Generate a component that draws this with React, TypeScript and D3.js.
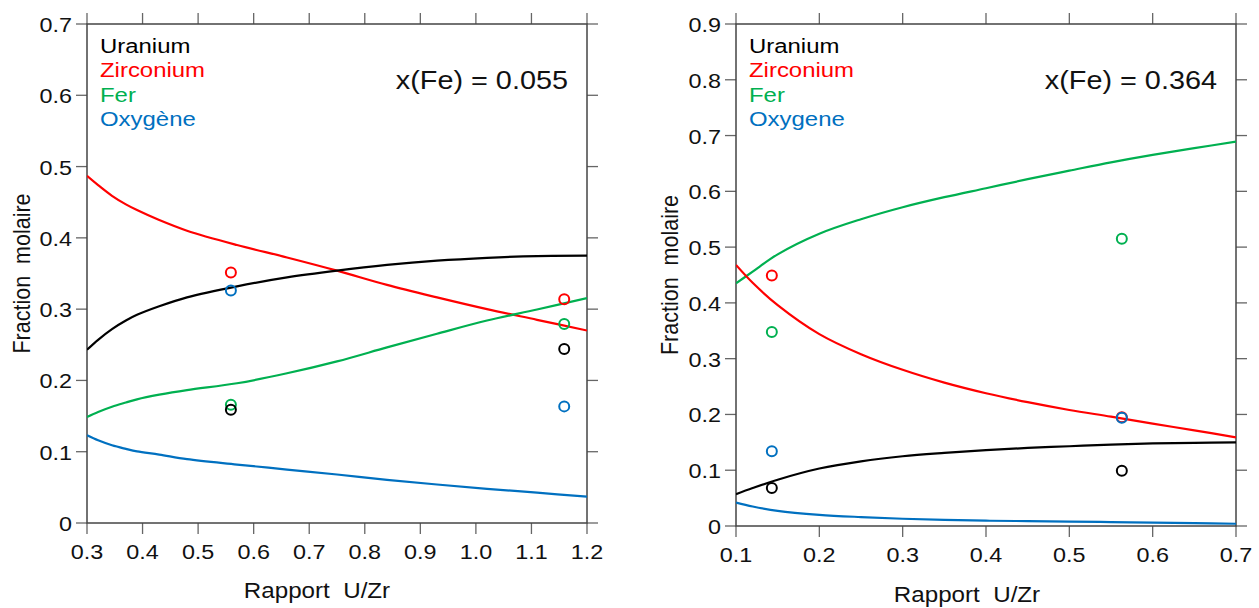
import React from "react";
import * as d3 from "d3";

// ---------- Left panel data: x(Fe) = 0.055 ----------
const leftX = [0.3, 0.32, 0.345, 0.37, 0.39, 0.43, 0.48, 0.57, 0.66, 0.75, 0.84, 0.93, 1.02, 1.11, 1.2];
const leftU = [0.243, 0.257, 0.272, 0.284, 0.292, 0.304, 0.3165, 0.332, 0.3445, 0.354, 0.362, 0.368, 0.372, 0.3745, 0.375];
const leftZr = [0.487, 0.474, 0.459, 0.447, 0.439, 0.425, 0.41, 0.39, 0.3725, 0.354, 0.334, 0.3165, 0.3, 0.285, 0.27];
const leftFe = [0.1487, 0.1557, 0.163, 0.169, 0.1735, 0.18, 0.1865, 0.196, 0.21, 0.2267, 0.2463, 0.2655, 0.284, 0.2995, 0.3155];
const leftO = [0.123, 0.116, 0.109, 0.104, 0.1005, 0.096, 0.0895, 0.082, 0.075, 0.068, 0.0605, 0.054, 0.048, 0.0425, 0.037];
const leftPtX = [0.559, 1.159];
const leftPtU = [0.159, 0.244];
const leftPtZr = [0.3515, 0.314];
const leftPtFe = [0.166, 0.279];
const leftPtO = [0.326, 0.1636];
const leftXTicks = [0.3, 0.4, 0.5, 0.6, 0.7, 0.8, 0.9, 1.0, 1.1, 1.2];
const leftYTicks = [0, 0.1, 0.2, 0.3, 0.4, 0.5, 0.6, 0.7];

// ---------- Right panel data: x(Fe) = 0.364 ----------
const rightX = [0.1, 0.12, 0.15, 0.2, 0.25, 0.3, 0.35, 0.4, 0.45, 0.5, 0.55, 0.6, 0.65, 0.7];
const rightU = [0.057, 0.068, 0.083, 0.103, 0.116, 0.125, 0.131, 0.136, 0.14, 0.143, 0.146, 0.148, 0.149, 0.15];
const rightZr = [0.468, 0.436, 0.396, 0.344, 0.308, 0.28, 0.257, 0.238, 0.222, 0.208, 0.196, 0.1835, 0.1715, 0.159];
const rightFe = [0.435, 0.456, 0.487, 0.524, 0.55, 0.5715, 0.5895, 0.6056, 0.6218, 0.637, 0.652, 0.6654, 0.6774, 0.689];
const rightO = [0.042, 0.035, 0.027, 0.02, 0.016, 0.013, 0.011, 0.0095, 0.0088, 0.008, 0.007, 0.006, 0.005, 0.004];
const rightPtX = [0.143, 0.563];
const rightPtU = [0.068, 0.099];
const rightPtZr = [0.449, 0.195];
const rightPtFe = [0.348, 0.515];
const rightPtO = [0.134, 0.194];
const rightXTicks = [0.1, 0.2, 0.3, 0.4, 0.5, 0.6, 0.7];
const rightYTicks = [0, 0.1, 0.2, 0.3, 0.4, 0.5, 0.6, 0.7, 0.8, 0.9];

const COLORS = { U: "#000000", Zr: "#ff0000", Fe: "#00b050", O: "#0070c0" };
const FONT = "'Liberation Sans', Arial, Helvetica, sans-serif";
const SX = 1.14; // horizontal stretch of glyphs in the reference

function SText(props: {
  x: number;
  y: number;
  size: number;
  anchor?: "start" | "middle" | "end";
  fill?: string;
  children: React.ReactNode;
}) {
  return (
    <text
      transform={`translate(${props.x},${props.y}) scale(${SX},1)`}
      textAnchor={props.anchor || "start"}
      fontSize={props.size}
      fontFamily={FONT}
      fill={props.fill || "#111"}
      style={{ whiteSpace: "pre" }}
    >
      {props.children}
    </text>
  );
}

type Key = keyof typeof COLORS;
type PanelProps = {
  id: string;
  box: { x0: number; x1: number; y0: number; y1: number };
  xDomain: [number, number];
  yDomain: [number, number];
  xTicks: number[];
  yTicks: number[];
  curveX: number[];
  curves: { key: Key; ys: number[] }[];
  ptX: number[];
  pts: { key: Key; ys: number[] }[];
  legend: { key: Key; label: string }[];
  note: string;
  xTitleX: number;
  xTitleY: number;
  yTitleX: number;
};

function Panel(p: PanelProps) {
  const { box } = p;
  const x = d3.scaleLinear().domain(p.xDomain).range([box.x0, box.x1]);
  const y = d3.scaleLinear().domain(p.yDomain).range([box.y1, box.y0]);
  const T = 11;
  const frameColor = "#444";
  const tickColor = "#666";
  const line = (ys: number[]) =>
    d3
      .line<number>()
      .x((_, i) => x(p.curveX[i]))
      .y((d) => y(d))
      .curve(d3.curveCatmullRom.alpha(0.5))(ys) || "";
  const xFmt = (v: number) => d3.format(".1f")(v);
  const yFmt = (v: number) => (v === 0 ? "0" : d3.format(".1f")(v));
  return (
    <g>
      <defs>
        <clipPath id={`clip-${p.id}`}>
          <rect x={box.x0} y={box.y0} width={box.x1 - box.x0} height={box.y1 - box.y0} />
        </clipPath>
      </defs>
      {p.xTicks.map((t) => (
        <g key={"xt" + t}>
          <line x1={x(t)} x2={x(t)} y1={box.y1} y2={box.y1 + T} stroke={tickColor} strokeWidth={1.3} />
          <line x1={x(t)} x2={x(t)} y1={box.y0} y2={box.y0 - T} stroke={tickColor} strokeWidth={1.3} />
          <SText x={x(t)} y={box.y1 + 35.5} size={20.5} anchor="middle">
            {xFmt(t)}
          </SText>
        </g>
      ))}
      {p.yTicks.map((t) => (
        <g key={"yt" + t}>
          <line x1={box.x0} x2={box.x0 - T} y1={y(t)} y2={y(t)} stroke={tickColor} strokeWidth={1.3} />
          <line x1={box.x1} x2={box.x1 + T} y1={y(t)} y2={y(t)} stroke={tickColor} strokeWidth={1.3} />
          <SText x={box.x0 - 15} y={y(t) + 8} size={20.5} anchor="end">
            {yFmt(t)}
          </SText>
        </g>
      ))}
      <rect x={box.x0} y={box.y0} width={box.x1 - box.x0} height={box.y1 - box.y0} fill="none" stroke={frameColor} strokeWidth={1.5} />
      <g clipPath={`url(#clip-${p.id})`}>
        {p.curves.map((c) => (
          <path key={"c" + c.key} d={line(c.ys)} fill="none" stroke={COLORS[c.key]} strokeWidth={2.2} />
        ))}
      </g>
      {p.pts.map((c) =>
        c.ys.map((v, i) => (
          <circle key={"p" + c.key + i} cx={x(p.ptX[i])} cy={y(v)} r={5} fill="none" stroke={COLORS[c.key]} strokeWidth={2} />
        ))
      )}
      {p.legend.map((l, i) => (
        <SText key={"l" + l.key} x={box.x0 + 13} y={box.y0 + 29 + i * 24.3} size={21} fill={COLORS[l.key]}>
          {l.label}
        </SText>
      ))}
      <SText x={box.x1 - 19} y={box.y0 + 65} size={25.3} anchor="end">
        {p.note}
      </SText>
      <SText x={p.xTitleX} y={p.xTitleY} size={21.2} anchor="middle">
        {"Rapport  U/Zr"}
      </SText>
      <text
        transform={`translate(${p.yTitleX},${(box.y0 + box.y1) / 2}) rotate(-90) scale(1,${SX})`}
        textAnchor="middle"
        fontSize={21.5}
        fontFamily={FONT}
        fill="#111"
        style={{ whiteSpace: "pre" }}
      >
        {"Fraction  molaire"}
      </text>
    </g>
  );
}

export default function App() {
  return (
    <svg width={1259} height={608} style={{ position: "absolute", left: 0, top: 0, background: "#fff" }}>
      <rect width={1259} height={608} fill="#fff" />
      <Panel
        id="left"
        box={{ x0: 87, x1: 587, y0: 24, y1: 523 }}
        xDomain={[0.3, 1.2]}
        yDomain={[0, 0.7]}
        xTicks={leftXTicks}
        yTicks={leftYTicks}
        curveX={leftX}
        curves={[
          { key: "Zr", ys: leftZr },
          { key: "U", ys: leftU },
          { key: "Fe", ys: leftFe },
          { key: "O", ys: leftO },
        ]}
        ptX={leftPtX}
        pts={[
          { key: "Zr", ys: leftPtZr },
          { key: "O", ys: leftPtO },
          { key: "Fe", ys: leftPtFe },
          { key: "U", ys: leftPtU },
        ]}
        legend={[
          { key: "U", label: "Uranium" },
          { key: "Zr", label: "Zirconium" },
          { key: "Fe", label: "Fer" },
          { key: "O", label: "Oxygène" },
        ]}
        note="x(Fe) = 0.055"
        xTitleX={317}
        xTitleY={598}
        yTitleX={30}
      />
      <Panel
        id="right"
        box={{ x0: 736, x1: 1236, y0: 24, y1: 526 }}
        xDomain={[0.1, 0.7]}
        yDomain={[0, 0.9]}
        xTicks={rightXTicks}
        yTicks={rightYTicks}
        curveX={rightX}
        curves={[
          { key: "Fe", ys: rightFe },
          { key: "Zr", ys: rightZr },
          { key: "U", ys: rightU },
          { key: "O", ys: rightO },
        ]}
        ptX={rightPtX}
        pts={[
          { key: "Zr", ys: rightPtZr },
          { key: "Fe", ys: rightPtFe },
          { key: "U", ys: rightPtU },
          { key: "O", ys: rightPtO },
        ]}
        legend={[
          { key: "U", label: "Uranium" },
          { key: "Zr", label: "Zirconium" },
          { key: "Fe", label: "Fer" },
          { key: "O", label: "Oxygene" },
        ]}
        note="x(Fe) = 0.364"
        xTitleX={967}
        xTitleY={602}
        yTitleX={678}
      />
    </svg>
  );
}
